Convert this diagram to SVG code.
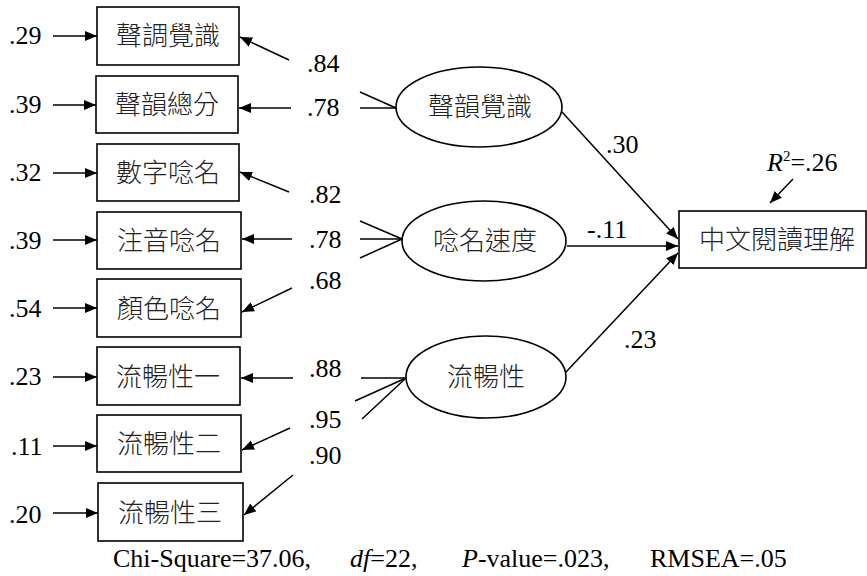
<svg xmlns="http://www.w3.org/2000/svg" width="867" height="576" viewBox="0 0 867 576">
<style>
.box{fill:#fff;stroke:#000;stroke-width:1.6}
.ell{fill:#fff;stroke:#000;stroke-width:1.6}
.cn{font-family:"Noto Sans CJK TC","Noto Sans CJK SC",sans-serif;font-size:26px;font-weight:300;fill:#222;text-anchor:middle}
.num{font-family:'Liberation Serif','DejaVu Serif',serif;font-size:26px;fill:#000}
.ln{stroke:#000;stroke-width:1.5;fill:none}
.ar{stroke:#000;stroke-width:1.5;fill:none;marker-end:url(#ah)}
</style>
<defs>
<marker id="ah" markerUnits="userSpaceOnUse" markerWidth="12" markerHeight="10" refX="12" refY="5" orient="auto">
<path d="M0,0 L12,5 L0,10 Z" fill="#000"/>
</marker>
</defs>
<rect width="867" height="576" fill="#fff"/>

<g id="connectors">
<line class="ar" x1="53" y1="36" x2="97" y2="36"/>
<line class="ar" x1="53" y1="105" x2="96" y2="105"/>
<line class="ar" x1="53" y1="173" x2="97" y2="173"/>
<line class="ar" x1="53" y1="240" x2="97" y2="240"/>
<line class="ar" x1="53" y1="308" x2="97" y2="308"/>
<line class="ar" x1="53" y1="377" x2="97" y2="377"/>
<line class="ar" x1="53" y1="446" x2="97" y2="446"/>
<line class="ar" x1="53" y1="513" x2="98" y2="513"/>
<line class="ln" x1="396" y1="108" x2="360" y2="92"/>
<line class="ar" x1="289" y1="60" x2="240" y2="37"/>
<line class="ln" x1="396" y1="108" x2="360" y2="108"/>
<line class="ar" x1="291" y1="108" x2="239" y2="108"/>
<line class="ln" x1="402" y1="239" x2="360" y2="221"/>
<line class="ar" x1="289" y1="192" x2="240" y2="172"/>
<line class="ln" x1="402" y1="239" x2="360" y2="239"/>
<line class="ar" x1="292" y1="239" x2="242" y2="239"/>
<line class="ln" x1="402" y1="239" x2="360" y2="258"/>
<line class="ar" x1="292" y1="288" x2="242" y2="312"/>
<line class="ln" x1="406" y1="378" x2="361" y2="378"/>
<line class="ar" x1="293" y1="378" x2="241" y2="378"/>
<line class="ln" x1="406" y1="378" x2="355" y2="401"/>
<line class="ar" x1="290" y1="428" x2="242" y2="450"/>
<line class="ln" x1="406" y1="378" x2="362" y2="419"/>
<line class="ar" x1="293" y1="475" x2="244" y2="515"/>
<line class="ar" x1="562" y1="112" x2="678" y2="239"/>
<line class="ar" x1="567" y1="246" x2="678" y2="246"/>
<line class="ar" x1="566" y1="372" x2="678" y2="253"/>
<line class="ar" x1="793" y1="179" x2="770" y2="203"/>
</g>

<g id="obs1"><rect class="box" x="97" y="7" width="142" height="58"/><text class="cn" x="168" y="45">聲調覺識</text></g>
<g id="obs2"><rect class="box" x="96" y="76" width="142" height="57"/><text class="cn" x="167" y="114">聲韻總分</text></g>
<g id="obs3"><rect class="box" x="97" y="144" width="142" height="57"/><text class="cn" x="168" y="182">數字唸名</text></g>
<g id="obs4"><rect class="box" x="97" y="212" width="144" height="57"/><text class="cn" x="169" y="250">注音唸名</text></g>
<g id="obs5"><rect class="box" x="97" y="279" width="144" height="58"/><text class="cn" x="169" y="318">顏色唸名</text></g>
<g id="obs6"><rect class="box" x="97" y="347" width="143" height="58"/><text class="cn" x="168" y="386">流暢性一</text></g>
<g id="obs7"><rect class="box" x="97" y="415" width="144" height="57"/><text class="cn" x="169" y="453">流暢性二</text></g>
<g id="obs8"><rect class="box" x="98" y="483" width="145" height="58"/><text class="cn" x="170" y="522">流暢性三</text></g>

<g id="lat1"><ellipse class="ell" cx="479" cy="107" rx="83" ry="40"/><text class="cn" x="480" y="116">聲韻覺識</text></g>
<g id="lat2"><ellipse class="ell" cx="484" cy="241" rx="82" ry="40"/><text class="cn" x="485" y="250">唸名速度</text></g>
<g id="lat3"><ellipse class="ell" cx="486" cy="377" rx="80" ry="41"/><text class="cn" x="486" y="386">流暢性</text></g>

<g id="outcome"><rect class="box" x="679" y="211" width="187" height="57"/><text class="cn" x="777" y="249">中文閱讀理解</text></g>

<g id="labels" font-family="'Liberation Serif', 'DejaVu Serif', serif">
<text class="num" x="9" y="44">.29</text>
<text class="num" x="9" y="113">.39</text>
<text class="num" x="9" y="181">.32</text>
<text class="num" x="9" y="249">.39</text>
<text class="num" x="9" y="317">.54</text>
<text class="num" x="9" y="385">.23</text>
<text class="num" x="11" y="455">.11</text>
<text class="num" x="9" y="523">.20</text>
<text class="num" x="307" y="72">.84</text>
<text class="num" x="307" y="116">.78</text>
<text class="num" x="309" y="203">.82</text>
<text class="num" x="309" y="248">.78</text>
<text class="num" x="309" y="289">.68</text>
<text class="num" x="309" y="377">.88</text>
<text class="num" x="309" y="428">.95</text>
<text class="num" x="309" y="464">.90</text>
<text class="num" x="606" y="153">.30</text>
<text class="num" x="587" y="238">-.11</text>
<text class="num" x="624" y="348">.23</text>
<text class="num" x="767" y="171"><tspan font-style="italic">R</tspan><tspan font-size="15" dy="-10">2</tspan><tspan dy="10">=.26</tspan></text>
<text class="num" y="567" font-size="25"><tspan x="113">Chi-Square=37.06,</tspan><tspan x="350" font-style="italic">df</tspan><tspan>=22,</tspan><tspan x="462" font-style="italic">P</tspan><tspan>-value=.023,</tspan><tspan x="650">RMSEA=.05</tspan></text>
</g>
</svg>
